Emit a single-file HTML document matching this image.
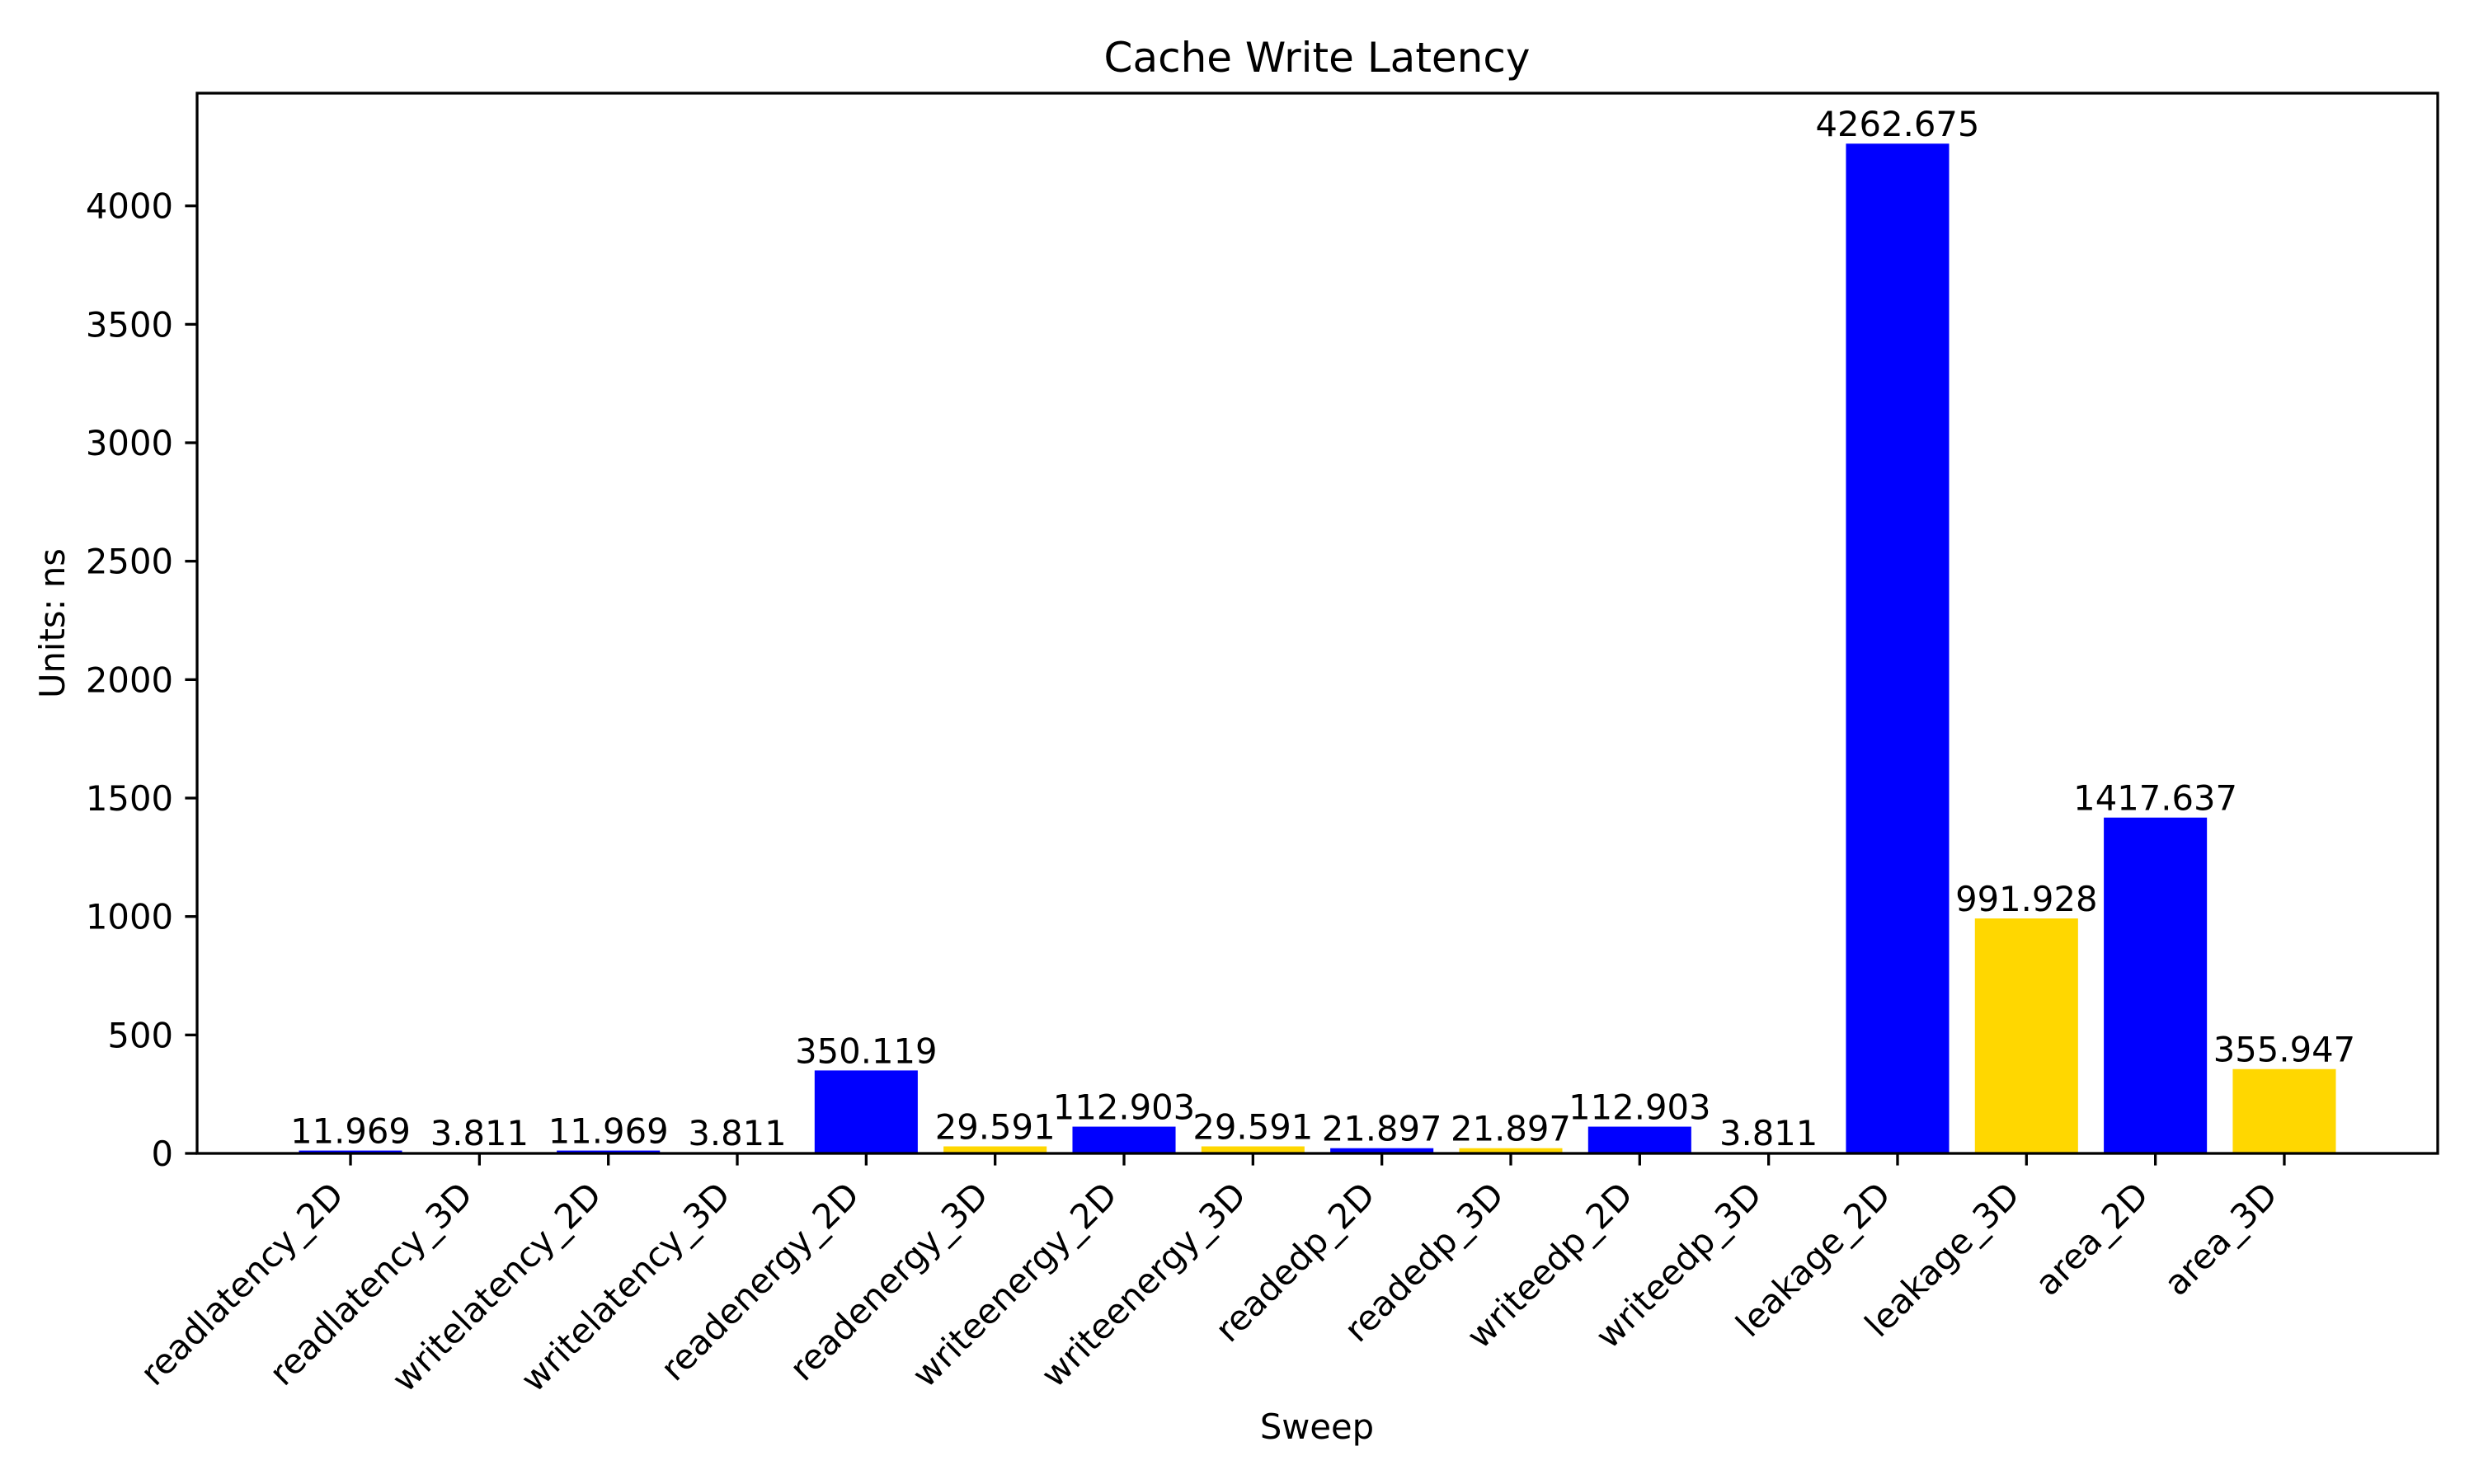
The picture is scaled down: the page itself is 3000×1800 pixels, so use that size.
<!DOCTYPE html>
<html>
<head>
<meta charset="utf-8">
<style>
  html, body { margin: 0; padding: 0; background: #ffffff; }
  svg { display: block; }
  text { font-family: "DejaVu Sans", "Liberation Sans", sans-serif; fill: #000; }
</style>
</head>
<body>
<svg id="chart" width="3000" height="1800" viewBox="0 0 3000 1800" xmlns="http://www.w3.org/2000/svg">
  <rect x="0" y="0" width="3000" height="1800" fill="#ffffff"/>
  <text x="1597" y="87" font-size="50" text-anchor="middle">Cache Write Latency</text>
  <g id="bars"></g>
  <g id="value-labels"></g>
  <g id="x-axis"></g>
  <g id="y-axis"></g>
  <rect x="239" y="113" width="2717" height="1286" fill="none" stroke="#000" stroke-width="3.3"/>
  <text x="0" y="0" font-size="41.7" text-anchor="middle" transform="translate(78,756) rotate(-90)">Units: ns</text>
  <text x="1597" y="1745" font-size="41.7" text-anchor="middle">Sweep</text>
</svg>
<script>
const categories = ["readlatency_2D","readlatency_3D","writelatency_2D","writelatency_3D","readenergy_2D","readenergy_3D","writeenergy_2D","writeenergy_3D","readedp_2D","readedp_3D","writeedp_2D","writeedp_3D","leakage_2D","leakage_3D","area_2D","area_3D"];
const values = [11.969, 3.811, 11.969, 3.811, 350.119, 29.591, 112.903, 29.591, 21.897, 21.897, 112.903, 3.811, 4262.675, 991.928, 1417.637, 355.947];
const valueLabels = ["11.969","3.811","11.969","3.811","350.119","29.591","112.903","29.591","21.897","21.897","112.903","3.811","4262.675","991.928","1417.637","355.947"];
const yTicks = [0, 500, 1000, 1500, 2000, 2500, 3000, 3500, 4000];
const seriesColors = ["#0000ff", "#ffd700"];

const NS = "http://www.w3.org/2000/svg";
const plot = { left: 239, right: 2956, top: 113, bottom: 1399 };
const n = categories.length;
const barW = 0.8;
const xPad = 0.05 * (n - 1 + barW);
const xMin = -barW / 2 - xPad, xMax = n - 1 + barW / 2 + xPad;
const yMax = Math.max(...values) * 1.05;
function xScale(v) { return plot.left + (v - xMin) / (xMax - xMin) * (plot.right - plot.left); }
function yScale(v) { return plot.bottom - v / yMax * (plot.bottom - plot.top); }
function mk(tag, attrs) { const e = document.createElementNS(NS, tag); for (const k in attrs) e.setAttribute(k, attrs[k]); return e; }

const barsG = document.getElementById("bars");
const labelsG = document.getElementById("value-labels");
const xG = document.getElementById("x-axis");
const yG = document.getElementById("y-axis");
const bwPx = xScale(barW) - xScale(0);

categories.forEach((cat, i) => {
  const cx = xScale(i);
  const top = yScale(values[i]);
  const r = mk("rect", { x: cx - bwPx / 2, y: top, width: bwPx, height: plot.bottom - top, fill: cat.endsWith("_2D") ? seriesColors[0] : seriesColors[1] });
  
  
  barsG.appendChild(r);

  const t = mk("text", { x: cx, y: top - 9, "font-size": 41.7, "text-anchor": "middle" });
  t.textContent = valueLabels[i];
  
  
  labelsG.appendChild(t);

  const tick = mk("line", { x1: cx, x2: cx, y1: plot.bottom, y2: plot.bottom + 14.6, stroke: "#000", "stroke-width": 3.3 });
  
  
  xG.appendChild(tick);

  const ax = cx - 6, ay = plot.bottom + 29 + 24;
  const lbl = mk("text", { x: 0, y: 0, "font-size": 41.7, "text-anchor": "end", transform: "translate(" + ax + "," + ay + ") rotate(-45)" });
  lbl.textContent = cat;
  
  
  xG.appendChild(lbl);
});

yTicks.forEach(v => {
  const y = yScale(v);
  const tick = mk("line", { x1: plot.left - 14.6, x2: plot.left, y1: y, y2: y, stroke: "#000", "stroke-width": 3.3 });
  
  
  yG.appendChild(tick);
  const lbl = mk("text", { x: plot.left - 29, y: y + 15, "font-size": 41.7, "text-anchor": "end" });
  lbl.textContent = String(v);
  
  
  yG.appendChild(lbl);
});
</script>
</body>
</html>
